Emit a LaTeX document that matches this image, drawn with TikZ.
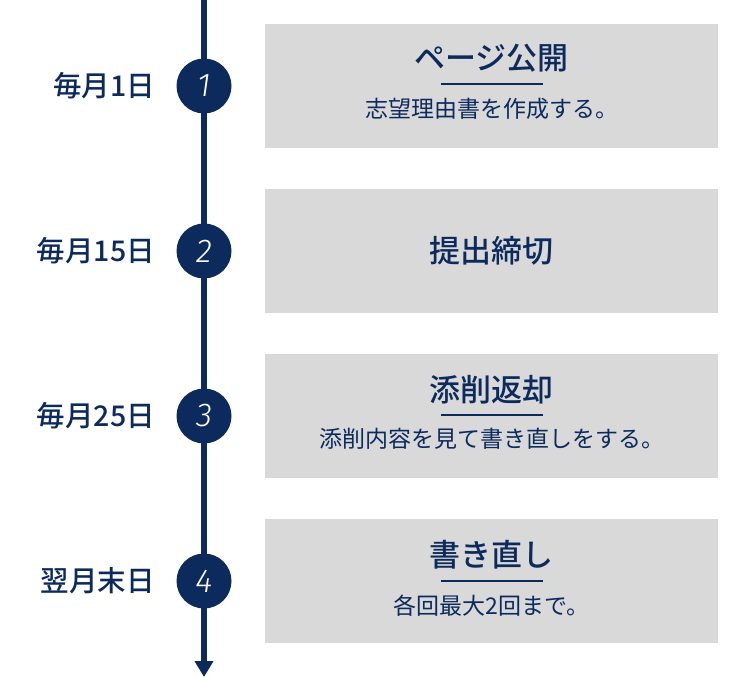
\documentclass[tikz,border=0pt]{standalone}
\usepackage{fontspec}
\usetikzlibrary{arrows.meta}
\newfontfamily\jp{Noto Sans CJK JP}
\newfontfamily\jpmed{Noto Sans CJK JP Medium}
\newfontfamily\numfont{Fira Sans Light Italic}
\definecolor{navy}{RGB}{12,42,92}
\definecolor{boxgray}{RGB}{217,217,217}
\tikzset{
  stepbox/.style={fill=boxgray, draw=none, minimum width=453pt, minimum height=124pt, inner sep=0pt},
  numcircle/.style={circle, fill=navy, minimum size=55pt, inner sep=0pt, text=white, font=\numfont\fontsize{33pt}{33pt}\selectfont},
  datelabel/.style={anchor=east, text=navy, inner sep=0pt, font=\jpmed\fontsize{28.5pt}{28.5pt}\selectfont},
  titletext/.style={text=navy, inner sep=0pt, font=\jpmed\fontsize{31pt}{31pt}\selectfont},
  subtext/.style={text=navy, inner sep=0pt, font=\jp\fontsize{23pt}{23pt}\selectfont},
  uline/.style={draw=navy, line width=2pt},
  timeline/.style={draw=navy, line width=6pt, -{Triangle[length=16pt,width=18pt]}}
}
\begin{document}
\begin{tikzpicture}[x=1pt,y=-1pt]
\useasboundingbox (0,0) rectangle (750,677);
\coordinate (top) at (204,0);
\coordinate (bot) at (204,677);
\draw[timeline] (top) -- (bot);
% boxes
\node[stepbox] (b1) at (491.5,86) {};
\node[stepbox] (b2) at (491.5,251) {};
\node[stepbox] (b3) at (491.5,416) {};
\node[stepbox] (b4) at (491.5,581) {};
% circles
\node[numcircle] (c1) at (204,86) {1};
\node[numcircle] (c2) at (204,251) {2};
\node[numcircle] (c3) at (204,416) {3};
\node[numcircle] (c4) at (204,581) {4};
% date labels
\node[datelabel] (d1) at (155,86) {毎月1日};
\node[datelabel] (d2) at (155,251) {毎月15日};
\node[datelabel] (d3) at (155,416) {毎月25日};
\node[datelabel] (d4) at (155,581) {翌月末日};
% box 1
\node[titletext] (t1) at (491.5,58) {ページ公開};
\coordinate (u1a) at (441,84); \coordinate (u1b) at (543,84);
\draw[uline] (u1a) -- (u1b);
\node[subtext] (s1) at (491.5,109) {志望理由書を作成する。};
% box 2
\node[titletext] (t2) at (491.5,251) {提出締切};
% box 3
\node[titletext] (t3) at (491.5,390) {添削返却};
\coordinate (u3a) at (441,415); \coordinate (u3b) at (543,415);
\draw[uline] (u3a) -- (u3b);
\node[subtext] (s3) at (491.5,439) {添削内容を見て書き直しをする。};
% box 4
\node[titletext] (t4) at (491.5,555) {書き直し};
\coordinate (u4a) at (441,581); \coordinate (u4b) at (543,581);
\draw[uline] (u4a) -- (u4b);
\node[subtext] (s4) at (491.5,606) {各回最大2回まで。};
\end{tikzpicture}
\end{document}
